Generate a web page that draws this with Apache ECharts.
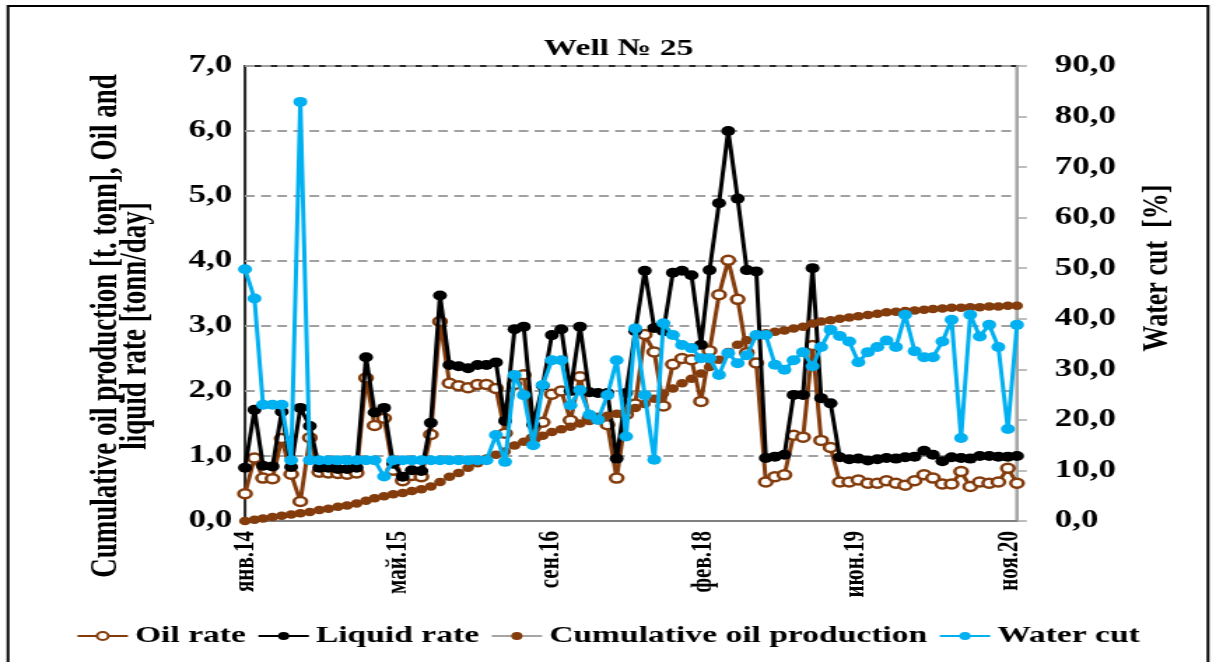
<!DOCTYPE html>
<html>
<head>
<meta charset="utf-8">
<script src="https://cdn.jsdelivr.net/npm/echarts@6/dist/echarts.min.js"></script>
<style>
  html, body { margin: 0; padding: 0; background: #fff; overflow: hidden; }
  #main { width: 869px; height: 662px; transform: scaleX(1.39931); transform-origin: 0 0; }
</style>
</head>
<body>
<div id="main"></div>
<script>
// ---- data ----
const months = [
  '2014-01','2014-02','2014-03','2014-04','2014-05','2014-06','2014-07','2014-08','2014-09','2014-10','2014-11','2014-12',
  '2015-01','2015-02','2015-03','2015-04','2015-05','2015-06','2015-07','2015-08','2015-09','2015-10','2015-11','2015-12',
  '2016-01','2016-02','2016-03','2016-04','2016-05','2016-06','2016-07','2016-08','2016-09','2016-10','2016-11','2016-12',
  '2017-01','2017-02','2017-03','2017-04','2017-05','2017-06','2017-07','2017-08','2017-09','2017-10','2017-11','2017-12',
  '2018-01','2018-02','2018-03','2018-04','2018-05','2018-06','2018-07','2018-08','2018-09','2018-10','2018-11','2018-12',
  '2019-01','2019-02','2019-03','2019-04','2019-05','2019-06','2019-07','2019-08','2019-09','2019-10','2019-11','2019-12',
  '2020-01','2020-02','2020-03','2020-04','2020-05','2020-06','2020-07','2020-08','2020-09','2020-10','2020-11','2020-12'
];
const monthNames = ['янв','фев','мар','апр','май','июн','июл','авг','сен','окт','ноя','дек'];

const oilRate = [
  0.42,0.97,0.66,0.65,1.27,0.72,0.30,1.28,0.75,0.74,
  0.73,0.72,0.74,2.20,1.47,1.58,0.78,0.62,0.70,0.68,
  1.33,3.07,2.12,2.08,2.05,2.10,2.10,2.04,1.35,2.10,
  2.25,1.27,1.52,1.95,2.00,1.55,2.22,1.58,1.58,1.48,
  0.66,1.64,1.80,2.87,2.60,1.77,2.41,2.50,2.48,1.84,
  2.62,3.48,4.01,3.41,2.59,2.43,0.60,0.68,0.71,1.32,
  1.29,2.70,1.24,1.13,0.60,0.60,0.63,0.58,0.58,0.62,
  0.58,0.55,0.62,0.71,0.66,0.57,0.57,0.76,0.53,0.60,
  0.58,0.60,0.81,0.58
];
const liquidRate = [
  0.82,1.71,0.85,0.84,1.68,0.83,1.74,1.46,0.82,0.82,
  0.80,0.80,0.82,2.52,1.67,1.74,0.88,0.68,0.78,0.77,
  1.51,3.47,2.40,2.38,2.35,2.40,2.40,2.44,1.54,2.95,
  2.99,1.48,2.08,2.86,2.95,2.00,2.99,1.98,1.97,1.97,
  0.96,1.97,2.92,3.85,2.97,2.92,3.82,3.85,3.78,2.71,
  3.86,4.89,6.00,4.96,3.86,3.84,0.97,0.99,1.02,1.94,
  1.94,3.89,1.89,1.81,0.98,0.95,0.96,0.93,0.95,0.97,
  0.96,0.98,0.99,1.08,1.02,0.92,0.98,0.97,0.96,1.00,
  1.00,0.99,0.99,1.00
];
const cumulativeOil = [
  0.00,0.02,0.04,0.06,0.08,0.10,0.12,0.14,0.17,0.19,
  0.22,0.24,0.27,0.31,0.35,0.38,0.41,0.43,0.46,0.49,
  0.53,0.60,0.68,0.74,0.82,0.89,0.96,1.02,1.07,1.16,
  1.22,1.26,1.31,1.37,1.41,1.45,1.50,1.54,1.58,1.62,
  1.65,1.69,1.74,1.80,1.88,1.96,2.04,2.12,2.19,2.27,
  2.37,2.48,2.60,2.71,2.78,2.86,2.89,2.91,2.93,2.96,
  2.99,3.04,3.07,3.09,3.11,3.13,3.15,3.17,3.19,3.21,
  3.22,3.23,3.24,3.25,3.26,3.27,3.28,3.28,3.29,3.29,
  3.30,3.30,3.31,3.31
];
const waterCut = [
  49.8,44.0,23.0,23.0,23.0,12.0,82.9,12.0,12.0,12.0,
  12.0,12.0,12.0,12.0,12.0,8.8,12.0,12.0,12.0,12.0,
  12.0,12.0,12.0,12.0,12.0,12.0,12.0,17.0,11.7,28.9,
  24.9,15.0,26.9,31.8,31.8,22.9,25.9,21.0,20.0,24.9,
  31.8,16.7,38.1,24.9,12.1,39.1,36.8,34.8,34.2,32.2,
  32.2,28.9,33.2,31.2,32.8,36.8,36.8,30.9,29.9,31.8,
  33.4,30.6,34.4,37.8,36.6,35.5,31.4,33.4,34.4,35.7,
  34.4,40.8,33.6,32.4,32.4,35.5,39.8,16.4,40.8,36.5,
  38.8,34.4,18.2,38.8
];

// ---- helpers ----
const DAY = 86400000;
const T0 = Date.UTC(2014, 0, 1);
function dayIndex(m) {
  const p = m.split('-').map(Number);
  return (Date.UTC(p[0], p[1] - 1, 1) - T0) / DAY;
}
const xs = months.map(dayIndex);
function pairs(vals) { return vals.map((v, i) => [xs[i], v]); }
function dayLabel(v) {
  const d = new Date(T0 + v * DAY);
  return monthNames[d.getUTCMonth()] + '.' + String(d.getUTCFullYear()).slice(2);
}
const comma1 = v => v.toFixed(1).replace('.', ',');

const FONT = 'Liberation Serif';
const S = 1216 / 869;
const BROWN = '#843C0C', BLUE = '#00B0F0';

const chart = echarts.init(document.getElementById('main'), null, { renderer: 'canvas' });
chart.setOption({
  animation: false,
  backgroundColor: '#fff',
  title: {
    text: 'Well № 25', left: 437, top: 32, textAlign: 'center',
    textStyle: { fontFamily: FONT, fontWeight: 'bold', fontSize: 24, color: '#000' }
  },
  grid: {
    left: 245 / S, right: 869 - 1017 / S, top: 66, bottom: 141,
    show: true, borderColor: '#262626', borderWidth: 2, backgroundColor: 'transparent'
  },
  legend: {
    left: 'center', top: 619, itemWidth: 36, itemHeight: 10, itemGap: 8,
    textStyle: { fontFamily: FONT, fontWeight: 'bold', fontSize: 24, color: '#000' },
    data: ['Oil rate', 'Liquid rate', 'Cumulative oil production', 'Water cut']
  },
  xAxis: {
    type: 'value', min: 0, max: xs[xs.length - 1], interval: 500,
    axisLine: { show: true, lineStyle: { color: '#7f7f7f', width: 2 } },
    axisTick: { show: false },
    splitLine: { show: false },
    axisLabel: {
      rotate: 90, margin: 10, showMaxLabel: false,
      fontFamily: FONT, fontWeight: 'bold', fontSize: 21, color: '#000',
      formatter: dayLabel
    }
  },
  yAxis: [
    {
      type: 'value', min: 0, max: 7, interval: 1,
      axisLine: { show: false }, axisTick: { show: false },
      splitLine: { show: true, lineStyle: { color: '#a0a0a0', width: 2, type: [7, 4.5] } },
      axisLabel: { margin: 9, fontFamily: FONT, fontWeight: 'bold', fontSize: 25, color: '#000', formatter: comma1 }
    },
    {
      type: 'value', min: 0, max: 90, interval: 10, position: 'right',
      axisLine: { show: true, lineStyle: { color: '#a6a6a6', width: 2 } },
      axisTick: { show: true, length: 7, lineStyle: { color: '#a6a6a6', width: 1.5 } },
      splitLine: { show: false },
      axisLabel: { margin: 27, fontFamily: FONT, fontWeight: 'bold', fontSize: 25, color: '#000', formatter: comma1 }
    }
  ],
  graphic: [
    {
      type: 'text', x: 87, y: 326, rotation: Math.PI / 2,
      style: {
        text: 'Cumulative oil production [t. tonn], Oil and\nliquid rate [tonn/day]',
        fontFamily: FONT, fontWeight: 'bold', fontSize: 27, lineHeight: 21,
        fill: '#000', align: 'center', verticalAlign: 'middle'
      }
    },
    {
      type: 'text', x: 1158 / S, y: 268, rotation: Math.PI / 2,
      style: {
        text: 'Water cut  [%]',
        fontFamily: FONT, fontWeight: 'bold', fontSize: 26,
        fill: '#000', align: 'center', verticalAlign: 'middle'
      }
    },
    {
      type: 'rect', shape: { x: 8 / S, y: 6, width: 1200 / S, height: 662 },
      style: { fill: 'none', stroke: '#000', lineWidth: 2 }, silent: true
    }
  ],
  series: [
    {
      name: 'Oil rate', type: 'line', yAxisIndex: 0, data: pairs(oilRate),
      symbol: 'circle', symbolSize: 9,
      lineStyle: { color: BROWN, width: 3 },
      itemStyle: { color: '#fff', borderColor: BROWN, borderWidth: 2.5 },
      z: 2
    },
    {
      name: 'Liquid rate', type: 'line', yAxisIndex: 0, data: pairs(liquidRate),
      symbol: 'circle', symbolSize: 10,
      lineStyle: { color: '#000', width: 3 },
      itemStyle: { color: '#000' },
      z: 3
    },
    {
      name: 'Cumulative oil production', type: 'line', yAxisIndex: 0, data: pairs(cumulativeOil),
      symbol: 'circle', symbolSize: 8.5,
      lineStyle: { color: '#a5a5a5', width: 3 },
      itemStyle: { color: BROWN },
      z: 4
    },
    {
      name: 'Water cut', type: 'line', yAxisIndex: 1, data: pairs(waterCut),
      symbol: 'circle', symbolSize: 10,
      lineStyle: { color: BLUE, width: 3 },
      itemStyle: { color: BLUE },
      z: 5
    }
  ]
});
</script>
</body>
</html>
